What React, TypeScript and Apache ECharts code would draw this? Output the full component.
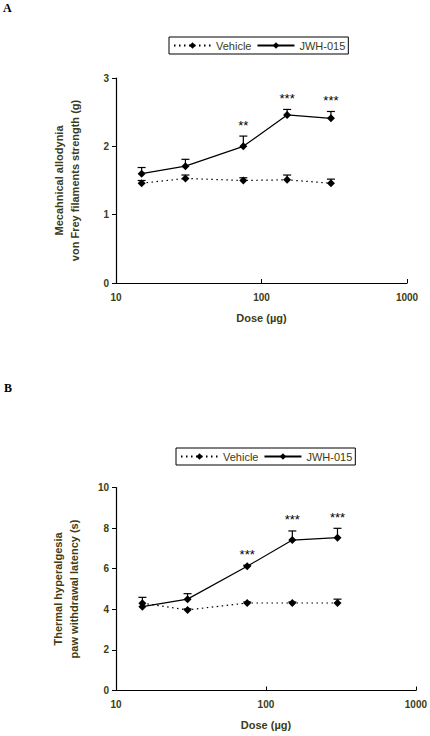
import React, { useEffect, useRef } from "react";
import * as echarts from "echarts";

const doses = [15, 30, 75, 150, 300];

const vehA = [1.46, 1.53, 1.5, 1.51, 1.46];
const vehAErr = [0.04, 0.05, 0.04, 0.07, 0.06];
const jwhA = [1.6, 1.71, 2.0, 2.46, 2.41];
const jwhAErr = [0.09, 0.1, 0.15, 0.08, 0.1];
const sigA = ["", "", "**", "***", "***"];

const vehB = [4.3, 3.97, 4.31, 4.31, 4.31];
const vehBErr = [0, 0.05, 0.05, 0.05, 0.19];
const jwhB = [4.13, 4.5, 6.12, 7.41, 7.53];
const jwhBErr = [0.46, 0.27, 0.05, 0.45, 0.46];
const sigB = ["", "", "***", "***", "***"];

const seriesNames = ["Vehicle", "JWH-015"];
const yNameA = "Mecahnical allodynia\nvon Frey filaments strength (g)";
const yNameB = "Thermal hyperalgesia\npaw withdrawal latency (s)";
const xName = "Dose (µg)";

const FONT = "'Liberation Sans', Arial, sans-serif";
const OLIVE = "#3d3c14";

function errRender(params: any, api: any) {
  const x = api.value(0);
  const m = api.value(1);
  const e = api.value(2);
  if (!(e > 0)) return null;
  const p0 = api.coord([x, m]);
  const p1 = api.coord([x, m + e]);
  return {
    type: "group",
    children: [
      { type: "line", shape: { x1: p0[0], y1: p0[1], x2: p1[0], y2: p1[1] }, style: { stroke: "#000", lineWidth: 1.2 } },
      { type: "line", shape: { x1: p1[0] - 4, y1: p1[1], x2: p1[0] + 4, y2: p1[1] }, style: { stroke: "#000", lineWidth: 1.2 } },
    ],
  };
}

function starRender(labels: string[]) {
  return (params: any, api: any) => {
    const i = params.dataIndex;
    const t = labels[i];
    if (!t) return null;
    const p = api.coord([api.value(0), api.value(1)]);
    return {
      type: "text",
      x: p[0],
      y: p[1] - 11,
      style: { text: t, font: `13px ${FONT}`, fill: "#000", align: "center", verticalAlign: "middle" },
    };
  };
}

function xAxisCfg(gridIndex: number, gap: number) {
  return {
    type: "log",
    logBase: 10,
    gridIndex,
    min: 10,
    max: 1000,
    name: xName,
    nameLocation: "middle",
    nameGap: gap,
    nameTextStyle: { color: OLIVE, fontWeight: "bold", fontSize: 11, fontFamily: FONT },
    axisLine: { show: true, lineStyle: { color: "#000", width: 1.2 } },
    axisTick: { show: true, inside: true, length: 4, lineStyle: { color: "#000", width: 1 } },
    minorTick: { show: false },
    splitLine: { show: false },
    minorSplitLine: { show: false },
    axisLabel: {
      color: OLIVE,
      fontWeight: "bold",
      fontSize: 10,
      margin: 9,
      fontFamily: FONT,
      formatter: (v: number) => String(Math.round(v)),
    },
  };
}

function yAxisCfg(gridIndex: number, max: number, interval: number, name: string, gap: number) {
  return {
    type: "value",
    gridIndex,
    min: 0,
    max,
    interval,
    name,
    nameLocation: "middle",
    nameRotate: 90,
    nameGap: gap,
    nameTextStyle: { color: OLIVE, fontWeight: "bold", fontSize: 11, fontFamily: FONT, lineHeight: 16, align: "center" },
    axisLine: { show: true, lineStyle: { color: "#000", width: 1.2 } },
    axisTick: { show: true, inside: false, length: 4, lineStyle: { color: "#000", width: 1 } },
    splitLine: { show: false },
    axisLabel: { color: OLIVE, fontWeight: "bold", fontSize: 10, margin: 7, fontFamily: FONT },
  };
}

function panelSeries(idx: number, veh: number[], vehErr: number[], jwh: number[], jwhErr: number[], sig: string[]) {
  const common = { xAxisIndex: idx, yAxisIndex: idx };
  return [
    {
      ...common,
      type: "custom",
      renderItem: errRender,
      data: doses.map((d, i) => [d, veh[i], vehErr[i]]),
      encode: { x: 0, y: 1 },
      z: 1,
      silent: true,
    },
    {
      ...common,
      type: "custom",
      renderItem: errRender,
      data: doses.map((d, i) => [d, jwh[i], jwhErr[i]]),
      encode: { x: 0, y: 1 },
      z: 1,
      silent: true,
    },
    {
      ...common,
      name: seriesNames[0],
      type: "line",
      data: doses.map((d, i) => [d, veh[i]]),
      symbol: "diamond",
      symbolSize: 8,
      lineStyle: { color: "#000", width: 1.2, type: [1.5, 3.5] },
      itemStyle: { color: "#000" },
      z: 3,
    },
    {
      ...common,
      name: seriesNames[1],
      type: "line",
      data: doses.map((d, i) => [d, jwh[i]]),
      symbol: "diamond",
      symbolSize: 8,
      lineStyle: { color: "#000", width: 1.2, type: "solid" },
      itemStyle: { color: "#000" },
      z: 3,
    },
    {
      ...common,
      type: "custom",
      renderItem: starRender(sig),
      data: doses.map((d, i) => [d, jwh[i] + jwhErr[i]]),
      encode: { x: 0, y: 1 },
      z: 4,
      silent: true,
    },
  ];
}

function legendCfg(left: number, top: number) {
  return {
    left,
    top,
    data: seriesNames,
    orient: "horizontal",
    borderColor: "#000",
    borderWidth: 1,
    padding: [3, 3, 3, 4],
    itemWidth: 37,
    itemHeight: 8,
    itemGap: 5,
    selectedMode: false,
    textStyle: { color: OLIVE, fontSize: 11, fontFamily: FONT },
  };
}

export default function App() {
  const ref = useRef<HTMLDivElement>(null);
  useEffect(() => {
    if (!ref.current) return;
    const chart = echarts.init(ref.current, null, { renderer: "svg" });
    chart.setOption({
      animation: false,
      backgroundColor: "#fff",
      grid: [
        { left: 116, top: 78, width: 291, height: 205 },
        { left: 116, top: 487.5, width: 300, height: 203 },
      ],
      xAxis: [xAxisCfg(0, 29), xAxisCfg(1, 29)],
      yAxis: [yAxisCfg(0, 3, 1, yNameA, 33), yAxisCfg(1, 10, 2, yNameB, 34)],
      legend: [legendCfg(169, 37), legendCfg(176, 448)],
      graphic: [
        { type: "text", left: 3, top: 2, style: { text: "A", font: "bold 12px 'Liberation Serif', serif", fill: "#000" } },
        { type: "text", left: 4, top: 382, style: { text: "B", font: "bold 12px 'Liberation Serif', serif", fill: "#000" } },
      ],
      series: [
        ...panelSeries(0, vehA, vehAErr, jwhA, jwhAErr, sigA),
        ...panelSeries(1, vehB, vehBErr, jwhB, jwhBErr, sigB),
      ],
    });
    return () => chart.dispose();
  }, []);
  return <div ref={ref} style={{ position: "fixed", left: 0, top: 0, width: 430, height: 736 }} />;
}
